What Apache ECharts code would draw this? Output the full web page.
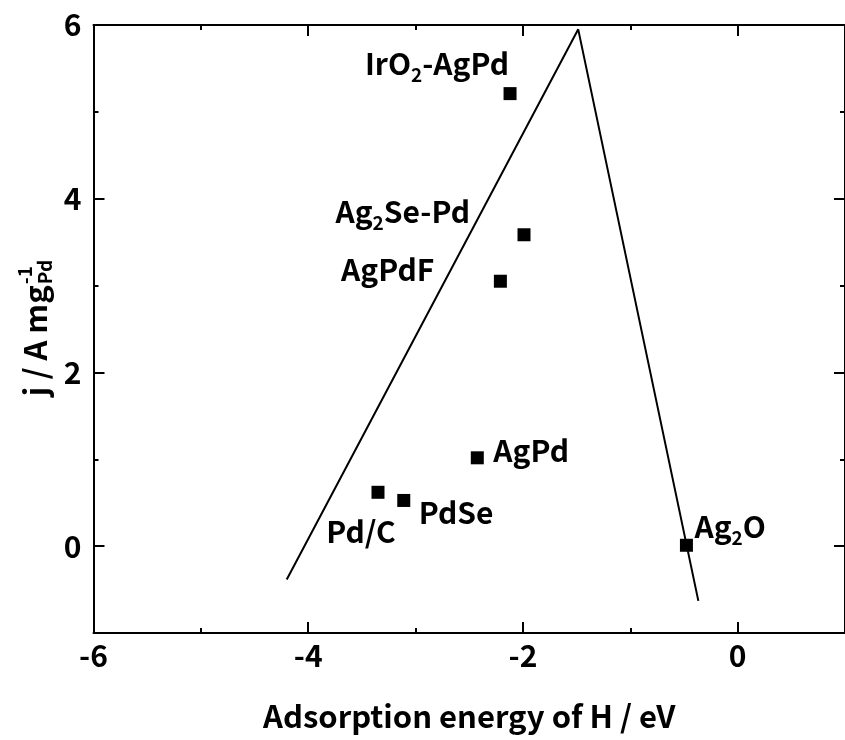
<!DOCTYPE html>
<html>
<head>
<meta charset="utf-8">
<script src="https://cdn.jsdelivr.net/npm/echarts@6/dist/echarts.min.js"></script>
<style>html,body{margin:0;padding:0;background:#fff}#c{width:845px;height:740px}</style>
</head>
<body>
<div id="c"></div>
<script>
// ---- data ----
const sampleNames = ['IrO2-AgPd', 'Ag2Se-Pd', 'AgPdF', 'AgPd', 'Pd/C', 'PdSe', 'Ag2O'];
const adsorptionEnergy = [-2.12, -1.99, -2.21, -2.425, -3.35, -3.11, -0.477];
const massActivity = [5.21, 3.585, 3.05, 1.017, 0.62, 0.526, 0.01];
const volcanoX = [-4.2, -1.485, -0.366];
const volcanoY = [-0.383, 5.95, -0.63];
const xMajorTicks = [-6, -4, -2, 0];
const xMinorTicks = [-5, -3, -1, 1];
const yMajorTicks = [0, 2, 4, 6];
const yMinorTicks = [1, 3, 5];

// ---- label placement (style, not data) ----
const labelPlace = [
  {align: 'right', offset: [-1, -30]},
  {align: 'right', offset: [-54, -23]},
  {align: 'right', offset: [-66, -12]},
  {align: 'left', offset: [16, -7]},
  {align: 'center', offset: [-17, 39]},
  {align: 'left', offset: [15, 12]},
  {align: 'left', offset: [8, -19]}
];

const FONT = '"Noto Sans CJK JP", "Noto Sans", sans-serif';
const chart = echarts.init(document.getElementById('c'), null, {renderer: 'canvas'});

function fmtName(n) { return n.replace(/(\d)/, '{s|$1}'); }

const scatterData = sampleNames.map((n, i) => ({
  value: [adsorptionEnergy[i], massActivity[i]],
  name: n,
  label: {align: labelPlace[i].align, offset: labelPlace[i].offset}
}));
const lineData = volcanoX.map((x, i) => [x, volcanoY[i]]);

const black = '#000';
function xAxisDef(pos, ticks, len, showLine, showLabel) {
  return {
    type: 'value', position: pos, min: -6, max: 1, gridIndex: 0,
    axisLine: {show: showLine, onZero: false, lineStyle: {color: black, width: 2}},
    axisTick: {show: true, inside: true, length: len, customValues: ticks, lineStyle: {color: black, width: 2}},
    axisLabel: {show: showLabel, customValues: xMajorTicks, color: black, fontFamily: FONT, fontWeight: 'bold', fontSize: 30, margin: 8},
    splitLine: {show: false}
  };
}
function yAxisDef(pos, ticks, len, showLine, showLabel) {
  return {
    type: 'value', position: pos, min: -1, max: 6, gridIndex: 0,
    axisLine: {show: showLine, onZero: false, lineStyle: {color: black, width: 2}},
    axisTick: {show: true, inside: true, length: len, customValues: ticks, lineStyle: {color: black, width: 2}},
    axisLabel: {show: showLabel, customValues: yMajorTicks, color: black, fontFamily: FONT, fontWeight: 'bold', fontSize: 30, margin: 12},
    splitLine: {show: false}
  };
}

const xa0 = xAxisDef('bottom', xMajorTicks, 11, true, true);
xa0.name = 'Adsorption energy of H / eV';
xa0.nameLocation = 'middle';
xa0.nameGap = 68;
xa0.nameTextStyle = {color: black, fontFamily: FONT, fontWeight: 'bold', fontSize: 31};

// y-axis title built as rotated graphic text with stacked sub/superscript
const titleFont = 'bold 31px ' + FONT;
const subFont = 'bold 19px ' + FONT;
const mctx = document.createElement('canvas').getContext('2d');
mctx.font = titleFont;
const mainW = mctx.measureText('j / A mg').width;
mctx.font = subFont;
const subW = Math.max(mctx.measureText('Pd').width, mctx.measureText('-1').width);
const totalW = mainW + 1 + subW;

const option = {
  animation: false,
  backgroundColor: '#fff',
  grid: {left: 93.5, right: -6, top: 25, bottom: 107, containLabel: false},
  xAxis: [
    xa0,
    xAxisDef('bottom', xMinorTicks, 5, false, false),
    xAxisDef('top', xMajorTicks, 11, true, false),
    xAxisDef('top', xMinorTicks, 5, false, false)
  ],
  yAxis: [
    yAxisDef('left', yMajorTicks, 11, true, true),
    yAxisDef('left', yMinorTicks, 5, false, false),
    yAxisDef('right', yMajorTicks, 11, true, false),
    yAxisDef('right', yMinorTicks, 5, false, false)
  ],
  series: [
    {
      type: 'line', xAxisIndex: 0, yAxisIndex: 0, data: lineData,
      symbol: 'none', lineStyle: {color: black, width: 2}, z: 2
    },
    {
      type: 'scatter', xAxisIndex: 0, yAxisIndex: 0, data: scatterData,
      symbol: 'rect', symbolSize: 13, itemStyle: {color: black, opacity: 1}, z: 3,
      label: {
        show: true, position: 'inside', verticalAlign: 'middle',
        color: black, fontFamily: FONT, fontWeight: 'bold', fontSize: 30, lineHeight: 42,
        formatter: p => fmtName(p.name),
        rich: {
          s: {fontFamily: FONT, fontWeight: 'bold', fontSize: 19, lineHeight: 19, verticalAlign: 'bottom', color: black}
        }
      }
    }
  ],
  graphic: [
    {
      type: 'group', x: 35, y: 328 + totalW / 2, rotation: Math.PI / 2,
      children: [
        {type: 'text', x: 0, y: 0, style: {text: 'j / A mg', font: titleFont, fill: black, align: 'left', verticalAlign: 'middle'}},
        {type: 'text', x: mainW + 1, y: -10, style: {text: '-1', font: subFont, fill: black, align: 'left', verticalAlign: 'middle'}},
        {type: 'text', x: mainW + 1, y: 10, style: {text: 'Pd', font: subFont, fill: black, align: 'left', verticalAlign: 'middle'}}
      ]
    }
  ]
};
chart.setOption(option);
</script>
</body>
</html>
